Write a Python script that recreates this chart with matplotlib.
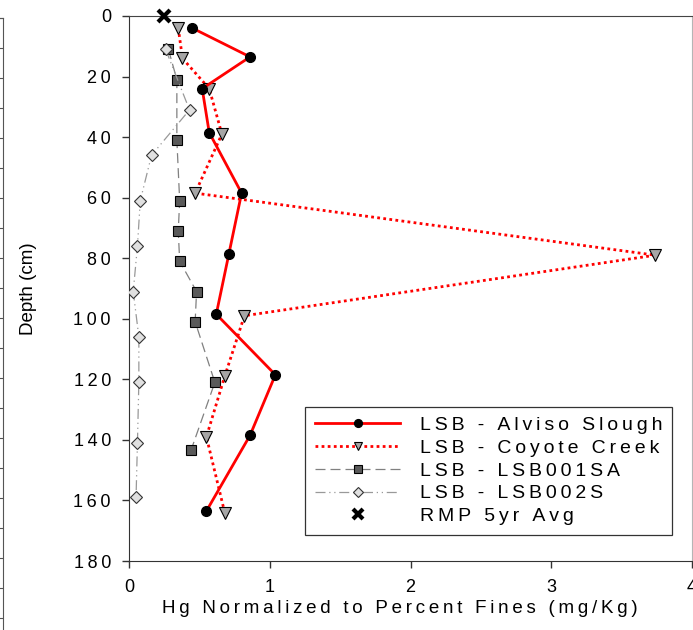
import numpy as np
import matplotlib.pyplot as plt

plt.rcParams['font.family'] = ['Liberation Sans', 'DejaVu Sans']

# depth (cm) / Hg normalized to percent fines (mg/Kg)
alviso_depth = [4, 13.5, 24, 38.5, 58.5, 78.5, 98.5, 118.5, 138.5, 163.5]
alviso_hg = [0.45, 0.86, 0.52, 0.57, 0.80, 0.71, 0.62, 1.04, 0.86, 0.55]

coyote_depth = [4, 14, 24, 39, 58.5, 79, 99, 119, 139, 164]
coyote_hg = [0.35, 0.38, 0.57, 0.66, 0.47, 3.74, 0.82, 0.68, 0.55, 0.68]

sa001_depth = [11, 21, 41, 61, 71, 81, 91, 101, 121, 143.5]
sa001_hg = [0.28, 0.34, 0.34, 0.36, 0.35, 0.36, 0.48, 0.47, 0.61, 0.44]

s002_depth = [11, 31, 46, 61, 76, 91, 106, 121, 141, 159]
s002_hg = [0.26, 0.43, 0.16, 0.08, 0.06, 0.03, 0.07, 0.07, 0.06, 0.05]

rmp_depth = [0]
rmp_hg = [0.25]

labels = ['LSB - Alviso Slough', 'LSB - Coyote Creek', 'LSB - LSB001SA',
          'LSB - LSB002S', 'RMP 5yr Avg']
y_ticks = np.arange(0, 181, 20)
x_ticks = [0, 1, 2, 3, 4]


def track(s, sp='\u2009'):
    # fake the wide letter spacing of the original
    return sp.join(s)


W, H = 693, 630
fig = plt.figure(figsize=(W / 100, H / 100), dpi=100)
ax = fig.add_axes([129 / W, 1 - 561 / H, (692 - 129) / W, (561 - 16) / H])

ax.plot(alviso_hg, alviso_depth, color='red', lw=2, ls='-', marker='o',
        ms=7, mfc='black', mec='black', label=track(labels[0]), zorder=5)
ax.plot(coyote_hg, coyote_depth, color='red', lw=2, ls=(0, (1, 1.2)),
        marker='v', ms=8, mfc='#a6a6a6', mec='black', mew=0.8,
        label=track(labels[1]), zorder=4)
ax.plot(sa001_hg, sa001_depth, color='#808080', lw=0.9, ls=(0, (8, 4)),
        marker='s', ms=6.5, mfc='#5a5a5a', mec='black', mew=0.8,
        label=track(labels[2]), zorder=3)
ax.plot(s002_hg, s002_depth, color='#999999', lw=0.9,
        ls=(0, (8, 3, 1, 3, 1, 3)), marker='D', ms=6, mfc='#e0e0e0',
        mec='#333333', mew=0.8, label=track(labels[3]), zorder=3)
ax.plot(rmp_hg, rmp_depth, ls='none', marker='x', ms=9, mew=3,
        color='black', label=track(labels[4]), zorder=6, clip_on=False)

ax.set_xlim(0, 4)
ax.set_ylim(180, 0)
ax.set_yticks(y_ticks)
ax.set_yticklabels([track(str(v)) for v in y_ticks])
ax.set_xticks(x_ticks)
ax.set_xticklabels([track(str(v)) for v in x_ticks])
ax.tick_params(direction='out', length=5, width=1, labelsize=13,
               color='#333333', pad=8)

for s in ['left', 'bottom']:
    ax.spines[s].set_color('#333333')
ax.spines['top'].set_color('#444444')
ax.spines['right'].set_color('#b5b5b5')

ax.set_xlabel(track('Hg Normalized to Percent Fines (mg/Kg)'), fontsize=13.5)
ax.xaxis.set_label_coords((400 - 129) / 563, (561 - 600) / 545)
ax.set_ylabel('Depth (cm)', fontsize=13.5)
ax.yaxis.set_label_coords((37 - 129) / 563, 0.5)

leg = ax.legend(loc='lower right', bbox_to_anchor=((672 - 129) / (692 - 129),
                (561 - 535) / (561 - 16)), frameon=True, fancybox=False,
                edgecolor='black', fontsize=14, handlelength=4.4,
                labelspacing=0.27, borderpad=0.5, handletextpad=1.0,
                borderaxespad=0, markerscale=0.8)
leg.get_frame().set_linewidth(0.9)

# edge of a neighbouring chart cut off at the left border
side = fig.add_axes([0, 0, 3 / W, (H - 18) / H])
side.set_ylim(H - 18, 0)
side.set_yticks(np.arange(0, H - 18, 30))
side.set_xticks([])
side.yaxis.tick_right()
side.tick_params(axis='y', direction='in', length=4, color='#555555',
                 labelright=False)
for s in ['left', 'bottom']:
    side.spines[s].set_visible(False)
side.spines['right'].set_color('#555555')
side.spines['top'].set_color('#555555')
side.patch.set_visible(False)

fig.savefig('out.png', dpi=100)
